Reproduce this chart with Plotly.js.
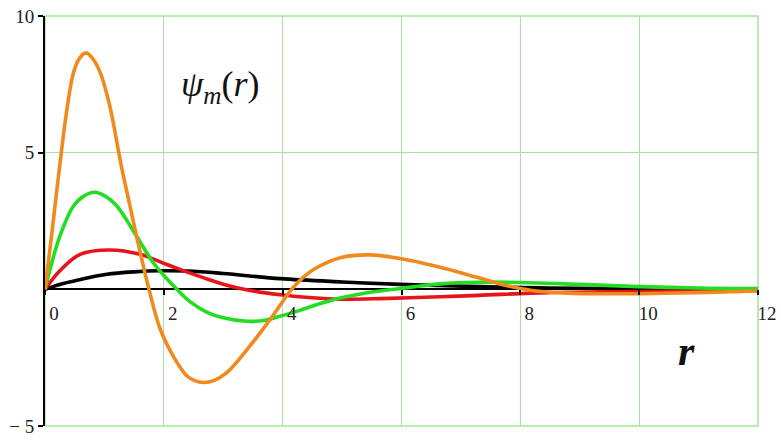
<!DOCTYPE html>
<html>
<head>
<meta charset="utf-8">
<script src="https://cdn.plot.ly/plotly-3.0.1.min.js"></script>
<style>
  html, body { margin: 0; padding: 0; background: #fff; }
  #graf { width: 781px; height: 443px; }
</style>
</head>
<body>
<div id="graf"></div>
<script>
// valores
const rNegro = [0, 0.25, 0.6, 1.04, 1.5, 1.94, 2.4, 3, 3.96, 5.0, 5.98, 7.32, 8.5, 10, 12];
const psiNegro = [0, 0.18, 0.36, 0.55, 0.64, 0.68, 0.67, 0.58, 0.39, 0.27, 0.18, 0.1, 0.05, 0.02, 0.0];

const rRojo = [0, 0.25, 0.59, 1.09, 1.6, 2.05, 2.27, 2.7, 3.11, 3.5, 3.96, 4.5, 4.97, 5.64, 6.65, 7.3, 8.45, 10, 12];
const psiRojo = [0, 0.68, 1.28, 1.44, 1.28, 0.91, 0.73, 0.4, 0.12, -0.06, -0.2, -0.31, -0.36, -0.34, -0.27, -0.22, -0.12, -0.08, -0.04];

const rVerde = [0, 0.1, 0.25, 0.48, 0.66, 0.84, 1.02, 1.21, 1.54, 1.82, 2.02, 2.22, 2.44, 2.72, 3.0, 3.4, 3.7, 3.96, 4.29, 4.62, 4.97, 5.5, 5.98, 6.65, 7.3, 8, 9, 10, 11, 12];
const psiVerde = [0, 0.85, 1.95, 3.05, 3.42, 3.55, 3.4, 3.05, 1.95, 0.98, 0.46, 0, -0.45, -0.83, -1.04, -1.17, -1.13, -0.98, -0.77, -0.53, -0.32, -0.1, 0.03, 0.2, 0.26, 0.25, 0.18, 0.1, 0.05, 0.03];

const rNaranja = [0, 0.11, 0.23, 0.37, 0.48, 0.58, 0.69, 0.8, 0.93, 1.09, 1.29, 1.42, 1.54, 1.75, 1.94, 2.19, 2.39, 2.52, 2.67, 2.85, 3.06, 3.45, 3.79, 4.15, 4.35, 4.57, 4.97, 5.47, 6.05, 6.75, 7.3, 7.8, 8.2, 8.7, 9.3, 10, 11, 12];
const psiNaranja = [0, 1.95, 4.2, 6.6, 7.93, 8.45, 8.65, 8.45, 7.93, 6.71, 4.45, 3.15, 1.95, 0, -1.46, -2.56, -3.17, -3.34, -3.41, -3.33, -3.05, -2.07, -1.1, 0, 0.45, 0.79, 1.16, 1.26, 1.1, 0.75, 0.42, 0.12, -0.04, -0.13, -0.16, -0.16, -0.12, -0.06];

const xTicks = [0, 2, 4, 6, 8, 10, 12];
const yTicks = [-5, 5, 10];
const yTickText = ['\u2212 5', '5', '10'];

const GRAF = document.getElementById('graf');

// una curva por funcion
const curva = (x, y, color) => ({
    x: x,
    y: y,
    type: 'scatter',
    mode: 'lines',
    line: { color: color, width: 3.6, shape: 'spline', smoothing: 1 },
    hoverinfo: 'skip'
});

const data = [
    curva(rNegro, psiNegro, '#000000'),
    curva(rRojo, psiRojo, '#e8141c'),
    curva(rVerde, psiVerde, '#22dd22'),
    curva(rNaranja, psiNaranja, '#f08a1e')
];

const SERIF = 'Liberation Serif';
const fuente = { family: SERIF, size: 19, color: '#222' };

const layout = {
    width: 781,
    height: 443,
    margin: { l: 45, r: 23, t: 16, b: 17 },
    paper_bgcolor: '#fff',
    plot_bgcolor: '#fff',
    showlegend: false,
    font: fuente,
    xaxis: {
        range: [0, 12],
        tickvals: xTicks,
        anchor: 'free',
        position: 1 / 3,
        showgrid: true,
        gridcolor: '#a6e3a0',
        gridwidth: 1,
        zeroline: false,
        showline: false,
        ticks: 'outside',
        ticklen: 5,
        tickwidth: 2,
        tickcolor: '#000',
        ticklabelshift: 9,
        ticklabelstandoff: 2,
        tickfont: fuente
    },
    yaxis: {
        range: [-5, 10],
        tickvals: yTicks,
        ticktext: yTickText,
        showgrid: true,
        gridcolor: '#a6e3a0',
        gridwidth: 1,
        zeroline: true,
        zerolinecolor: '#000',
        zerolinewidth: 2,
        showline: true,
        linecolor: '#000',
        linewidth: 2,
        ticks: 'outside',
        ticklen: 5,
        tickwidth: 2,
        tickcolor: '#000',
        ticklabelstandoff: 0,
        tickfont: fuente
    },
    shapes: [
        // marco verde del area de grafico
        { type: 'rect', xref: 'paper', yref: 'paper', x0: 0, x1: 1, y0: 0, y1: 1,
          line: { color: '#a6e3a0', width: 1.5 }, layer: 'below' }
    ],
    annotations: [
        {
            x: 2.96, y: 7.43, xref: 'x', yref: 'y', showarrow: false,
            text: '<i>\u03c8</i><sub><i>m</i></sub>(<i>r</i>)',
            font: { family: SERIF, size: 36, color: '#111' }
        },
        {
            x: 10.79, y: -2.27, xref: 'x', yref: 'y', showarrow: false,
            text: '<b><i>r</i></b>',
            font: { family: SERIF, size: 42, color: '#111' }
        }
    ]
};

Plotly.newPlot(GRAF, data, layout, { displayModeBar: false, staticPlot: true });
</script>
</body>
</html>
